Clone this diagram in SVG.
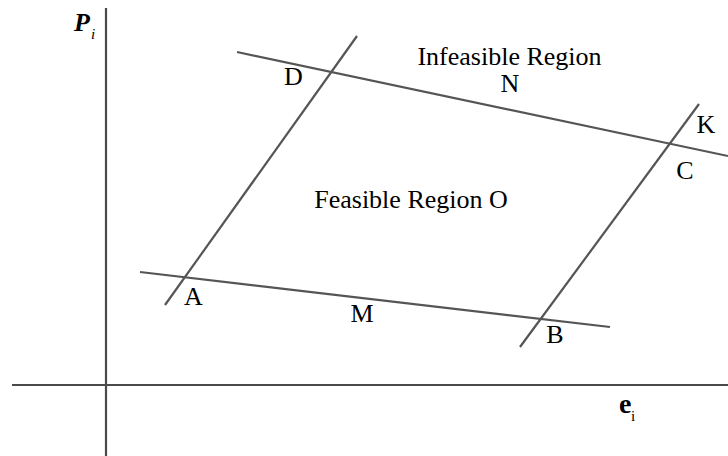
<svg xmlns="http://www.w3.org/2000/svg" width="728" height="456" viewBox="0 0 728 456">
<style>
.ax{stroke:#4a4a4a;stroke-width:2.2;fill:none}
.ln{stroke:#555;stroke-width:2.2;fill:none}
.t{font-family:"Liberation Serif",serif;font-size:26px;fill:#000}
</style>
<rect width="728" height="456" fill="#fff"/>
<g id="axes">
<line class="ax" x1="106" y1="8" x2="106" y2="456"/>
<line class="ax" x1="12" y1="385" x2="728" y2="385"/>
<text class="t" x="74" y="31" style="font-weight:bold;font-style:italic;font-size:26px">P</text>
<text class="t" x="91" y="39" style="font-style:italic;font-size:15px">i</text>
<text class="t" x="619" y="413" style="font-weight:bold;font-size:28px">e</text>
<text class="t" x="631" y="421" style="font-size:15px">i</text>
</g>
<g id="connectors">
<line class="ln" x1="237" y1="52" x2="728" y2="156"/>
<line class="ln" x1="140" y1="272" x2="610" y2="327"/>
<line class="ln" x1="165" y1="305" x2="357" y2="36"/>
<line class="ln" x1="520" y1="347" x2="699" y2="104"/>
</g>
<g id="labels">
<text class="t" x="509.5" y="65" text-anchor="middle">Infeasible Region</text>
<text class="t" x="510" y="92" text-anchor="middle">N</text>
<text class="t" x="706" y="133" text-anchor="middle">K</text>
<text class="t" x="685" y="179" text-anchor="middle">C</text>
<text class="t" x="293.5" y="85" text-anchor="middle">D</text>
<text class="t" x="411" y="208" text-anchor="middle">Feasible Region O</text>
<text class="t" x="193.5" y="305" text-anchor="middle">A</text>
<text class="t" x="362" y="322" text-anchor="middle">M</text>
<text class="t" x="555" y="343" text-anchor="middle">B</text>
</g>
</svg>
